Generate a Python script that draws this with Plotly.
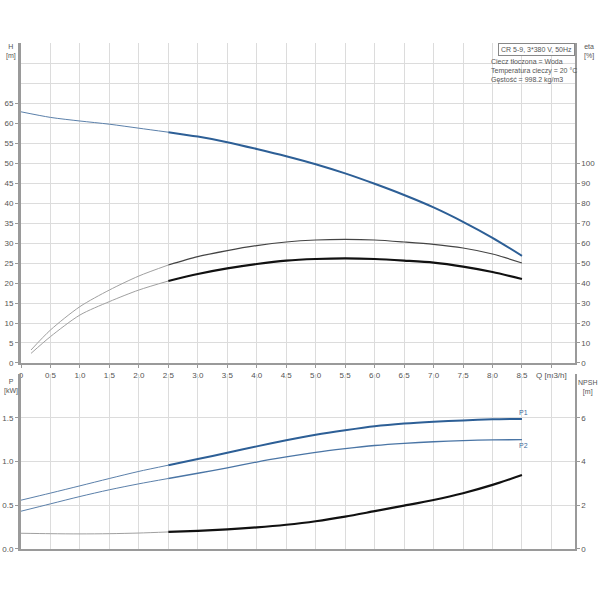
import plotly.graph_objects as go

# ---------------- data ----------------
Q = [0, 0.5, 1.0, 1.5, 2.0, 2.5, 3.0, 3.5, 4.0, 4.5, 5.0, 5.5, 6.0, 6.5, 7.0, 7.5, 8.0, 8.5]
H = [62.8, 61.4, 60.5, 59.7, 58.7, 57.7, 56.6, 55.2, 53.5, 51.7, 49.7, 47.4, 44.8, 42.0, 38.9, 35.3, 31.3, 26.8]

Q_eta = [0.17, 0.5, 1.0, 1.5, 2.0, 2.5, 3.0, 3.5, 4.0, 4.5, 5.0, 5.5, 6.0, 6.5, 7.0, 7.5, 8.0, 8.5]
eta_pump = [6.5, 16.5, 28.2, 36.5, 43.5, 49.0, 53.2, 56.2, 58.7, 60.5, 61.5, 61.8, 61.5, 60.5, 59.3, 57.5, 54.5, 50.0]
eta_total = [4.8, 13.2, 24.0, 30.7, 36.5, 41.0, 44.5, 47.3, 49.5, 51.2, 52.0, 52.3, 52.0, 51.2, 50.2, 48.2, 45.5, 42.0]

P1 = [0.558, 0.639, 0.722, 0.806, 0.887, 0.958, 1.028, 1.100, 1.173, 1.242, 1.305, 1.357, 1.403, 1.434, 1.455, 1.47, 1.482, 1.487]
P2 = [0.432, 0.516, 0.600, 0.677, 0.745, 0.806, 0.866, 0.928, 0.994, 1.052, 1.105, 1.147, 1.183, 1.208, 1.226, 1.239, 1.247, 1.25]
NPSH = [0.72, 0.70, 0.69, 0.70, 0.73, 0.78, 0.83, 0.90, 0.99, 1.11, 1.27, 1.48, 1.73, 1.98, 2.24, 2.55, 2.93, 3.38]

Q_ticks = [i * 0.5 for i in range(19)]
Q_ticktext = ["0"] + [f"{v:.1f}" for v in Q_ticks[1:18]] + ["Q [m3/h]"]
H_ticks = list(range(0, 70, 5))
eta_ticks = list(range(0, 110, 10))
P_ticks = [0.0, 0.5, 1.0, 1.5]
NPSH_ticks = [0, 2, 4, 6]

Q_START = 2.5  # start of the bold (operating) range

title_text = "CR 5-9, 3*380 V, 50Hz"
info_lines = ["Ciecz tłoczona = Woda", "Temperatura cieczy = 20 °C", "Gęstość = 998.2 kg/m3"]

# ---------------- styles ----------------
BLUE = "#2d5f96"
BLUE_THIN = "#5b80aa"
GRAY_THIN = "#a0a0a0"
DARK = "#111111"
GRID = "#dcdcdc"
AXC = "#9a9a9a"
FONT = "Liberation Sans"
TF = dict(family=FONT, size=8, color="#555555")


def split(x, y, start):
    xa = [a for a in x if a <= start]
    ya = [b for a, b in zip(x, y) if a <= start]
    xb = [a for a in x if a >= start]
    yb = [b for a, b in zip(x, y) if a >= start]
    return xa, ya, xb, yb


fig = go.Figure()


def add_curve(x, y, xaxis, yaxis, thin_color, thin_w, bold_color, bold_w):
    xa, ya, xb, yb = split(x, y, Q_START)
    fig.add_trace(go.Scatter(x=xa, y=ya, mode="lines", line=dict(color=thin_color, width=thin_w, shape="spline", smoothing=0.8),
                             xaxis=xaxis, yaxis=yaxis, showlegend=False, hoverinfo="skip"))
    fig.add_trace(go.Scatter(x=xb, y=yb, mode="lines", line=dict(color=bold_color, width=bold_w, shape="spline", smoothing=0.8),
                             xaxis=xaxis, yaxis=yaxis, showlegend=False, hoverinfo="skip"))


# top: H and eta
add_curve(Q, H, "x", "y", BLUE_THIN, 1, BLUE, 2)
add_curve(Q_eta, eta_pump, "x", "y3", GRAY_THIN, 1, "#444444", 1.2)
add_curve(Q_eta, eta_total, "x", "y3", GRAY_THIN, 1, DARK, 2.2)

# bottom: P1, P2, NPSH
add_curve(Q, P1, "x2", "y2", BLUE_THIN, 1, BLUE, 2)
add_curve(Q, P2, "x2", "y2", BLUE_THIN, 1, "#4a75a5", 1.3)
add_curve(Q, NPSH, "x2", "y4", GRAY_THIN, 1, DARK, 2.2)

TOP_DOM = [0.3676, 1.0]
BOT_DOM = [0.0, 0.3458]

xcommon = dict(range=[0, 9.4], showgrid=True, gridcolor=GRID, gridwidth=1, zeroline=False,
               tickvals=Q_ticks, ticktext=Q_ticktext, tickfont=TF, ticks="outside",
               tickcolor=AXC, showline=True, linecolor=AXC, linewidth=2, automargin=False)

fig.update_layout(
    width=600, height=600,
    margin=dict(l=21, r=25, t=43, b=51, autoexpand=False),
    paper_bgcolor="white", plot_bgcolor="white",
    font=dict(family=FONT, size=8, color="#555555"),
    xaxis=dict(**xcommon, anchor="y", domain=[0, 1], ticklen=3),
    xaxis2=dict(**xcommon, anchor="y2", matches="x", showticklabels=False, ticklen=0),
    yaxis=dict(domain=TOP_DOM, range=[0, 80], tickvals=H_ticks, showgrid=True, gridcolor=GRID, zeroline=False,
               tickfont=TF, ticks="outside", ticklen=3, tickcolor=AXC, showline=True, linecolor=AXC, linewidth=3,
               automargin=False,
               minor=dict(tickvals=[70, 75, 80], showgrid=True, gridcolor=GRID, ticklen=0)),
    yaxis3=dict(overlaying="y", side="right", anchor="x", range=[0, 160], tickvals=eta_ticks, showgrid=False,
                zeroline=False, tickfont=TF, ticks="outside", ticklen=3, tickcolor=AXC, showline=True,
                linecolor=AXC, linewidth=1.5, automargin=False),
    yaxis2=dict(domain=BOT_DOM, anchor="x2", range=[0, 2.0], tickvals=P_ticks, ticktext=[f"{v:.1f}" for v in P_ticks],
                showgrid=True, gridcolor=GRID, zeroline=False, tickfont=TF, ticks="outside", ticklen=3, tickcolor=AXC,
                showline=True, linecolor=AXC, linewidth=3, automargin=False,
                minor=dict(tickvals=[2.0], showgrid=True, gridcolor=GRID, ticklen=0)),
    yaxis4=dict(overlaying="y2", side="right", anchor="x2", range=[0, 8], tickvals=NPSH_ticks, showgrid=False,
                zeroline=False, tickfont=TF, ticks="outside", ticklen=3, tickcolor=AXC, showline=True,
                linecolor=AXC, linewidth=1.5, automargin=False),
)


def px_x(p):
    return (p - 21) / 554


def px_y(p):
    return (549 - p) / 506


annos = [
    dict(text="H<br>[m]", x=px_x(11), y=px_y(51)),
    dict(text="eta<br>[%]", x=px_x(589), y=px_y(51)),
    dict(text="P<br>[kW]", x=px_x(11), y=px_y(386)),
    dict(text="NPSH<br>[m]", x=px_x(588), y=px_y(387)),
]
for a in annos:
    fig.add_annotation(xref="paper", yref="paper", x=a["x"], y=a["y"], text=a["text"], showarrow=False,
                       font=dict(family=FONT, size=7, color="#555555"), align="center",
                       xanchor="center", yanchor="middle")

fig.add_annotation(xref="paper", yref="paper", x=px_x(575), y=px_y(43), text=title_text, showarrow=False,
                   xanchor="right", yanchor="top", font=dict(family=FONT, size=7, color="#555555"),
                   bordercolor="#888888", borderwidth=1, borderpad=2, bgcolor="white")
fig.add_annotation(xref="paper", yref="paper", x=px_x(489), y=px_y(56), text="<br>".join(info_lines),
                   showarrow=False, xanchor="left", yanchor="top", align="left",
                   font=dict(family=FONT, size=7, color="#555555"))

# curve labels
fig.add_annotation(x=Q[-1], y=P1[-1], xref="x2", yref="y2", text="P1", showarrow=False, yshift=6, xshift=2,
                   font=dict(family=FONT, size=7, color="#3c6a9a"))
fig.add_annotation(x=Q[-1], y=P2[-1], xref="x2", yref="y2", text="P2", showarrow=False, yshift=-6, xshift=2,
                   font=dict(family=FONT, size=7, color="#3c6a9a"))

# remove the default 8px page margin so the 600x600 figure fills the window exactly
fig.write_html("out.html", config={"displayModeBar": False},
               post_script="document.body.style.margin='0';document.body.style.overflow='hidden';")
